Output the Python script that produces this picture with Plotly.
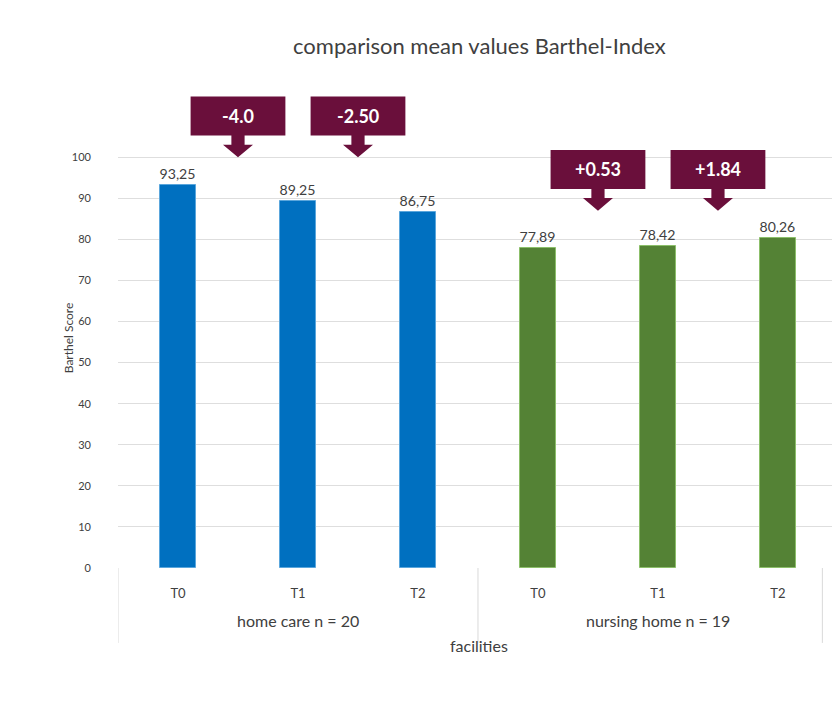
import plotly.graph_objects as go

# ---- data ----
groups = ["home care n = 20", "nursing home n = 19"]
timepoints = ["T0", "T1", "T2"]
home_care = [93.25, 89.25, 86.75]
nursing_home = [77.89, 78.42, 80.26]
home_deltas = ["-4.0", "-2.50"]
nursing_deltas = ["+0.53", "+1.84"]
y_ticks = [0, 10, 20, 30, 40, 50, 60, 70, 80, 90, 100]
title_text = "comparison mean values Barthel-Index"
y_title = "Barthel Score"
x_title = "facilities"

# ---- styles ----
FONT = "Lato"
BLUE = "#0070C0"
GREEN = "#548235"
MAROON = "#6A0F3B"
TXT = "#404040"

series = [(home_care, BLUE, "#5aa6dc", home_deltas), (nursing_home, GREEN, "#8cbf6a", nursing_deltas)]

fig = go.Figure()
shapes = []
annotations = []
n_t = len(timepoints)
for g, (vals, col, edge, deltas) in enumerate(series):
    xs = [g * n_t + i for i in range(n_t)]
    fig.add_trace(go.Bar(
        x=xs, y=vals, width=0.3,
        marker=dict(color=col, line=dict(color=edge, width=1)),
        text=[f"{v:.2f}".replace(".", ",") for v in vals],
        textposition="outside", cliponaxis=False,
        textfont=dict(family=FONT, size=15, color=TXT),
        showlegend=False, hoverinfo="skip",
    ))
    # group label
    annotations.append(dict(x=g * n_t + (n_t - 1) / 2, y=0, xref="x", yref="paper",
                            yshift=-52, yanchor="middle", text=groups[g], showarrow=False,
                            font=dict(family=FONT, size=16, color=TXT)))
    # callouts between consecutive time points
    tip = max(vals) + 6.7
    for i, d in enumerate(deltas):
        xc = xs[i] + 0.5
        bw, sw, hw = 0.395, 0.055, 0.125
        ybot = tip + 5.3
        ytop = ybot + 9.5
        ystem = tip + 3.1
        path = (f"M {xc-bw},{ytop} L {xc+bw},{ytop} L {xc+bw},{ybot} L {xc+sw},{ybot} "
                f"L {xc+sw},{ystem} L {xc+hw},{ystem} L {xc},{tip} L {xc-hw},{ystem} "
                f"L {xc-sw},{ystem} L {xc-sw},{ybot} L {xc-bw},{ybot} Z")
        shapes.append(dict(type="path", path=path, xref="x", yref="y",
                           fillcolor=MAROON, line=dict(width=0), layer="above"))
        annotations.append(dict(x=xc, y=(ytop + ybot) / 2, xref="x", yref="y", text=f"<b>{d}</b>",
                                showarrow=False, font=dict(family=FONT, size=18, color="white")))

# dividers below the axis
for xd in [-0.5, 2.5, 5.37]:
    shapes.append(dict(type="line", xref="x", yref="paper", x0=xd, x1=xd, y0=0, y1=-0.152,
                       line=dict(color="#d9d9d9", width=1)))

annotations.append(dict(x=0.5, y=0, xref="paper", yref="paper", yshift=-77, yanchor="middle",
                        text=x_title, showarrow=False, font=dict(family=FONT, size=16, color=TXT)))
annotations.append(dict(x=0, y=0.467, xref="paper", yref="paper", xshift=-59, text=y_title,
                        textangle=-90, showarrow=False, font=dict(family=FONT, size=12, color=TXT)))
annotations.append(dict(x=0.5, y=1, xref="paper", yref="paper", yshift=30, yanchor="middle",
                        text=title_text, showarrow=False, font=dict(family=FONT, size=22, color=TXT)))

fig.update_layout(
    width=832, height=704,
    margin=dict(l=110, r=0, t=67, b=144),
    paper_bgcolor="white", plot_bgcolor="white",
    shapes=shapes, annotations=annotations,
    xaxis=dict(range=[-0.5, 5.517], tickvals=list(range(2 * n_t)), ticktext=timepoints * 2,
               showgrid=False, zeroline=False, showline=False, ticks="",
               ticklabelstandoff=16, tickfont=dict(family=FONT, size=13, color=TXT)),
    yaxis=dict(range=[0, 120], tickvals=y_ticks, showgrid=True, gridcolor="#dedede", gridwidth=1,
               zeroline=False, showline=False, ticks="", ticklabelstandoff=26,
               tickfont=dict(family=FONT, size=11, color=TXT)),
    bargap=0,
)

fig.write_html("out.html")
